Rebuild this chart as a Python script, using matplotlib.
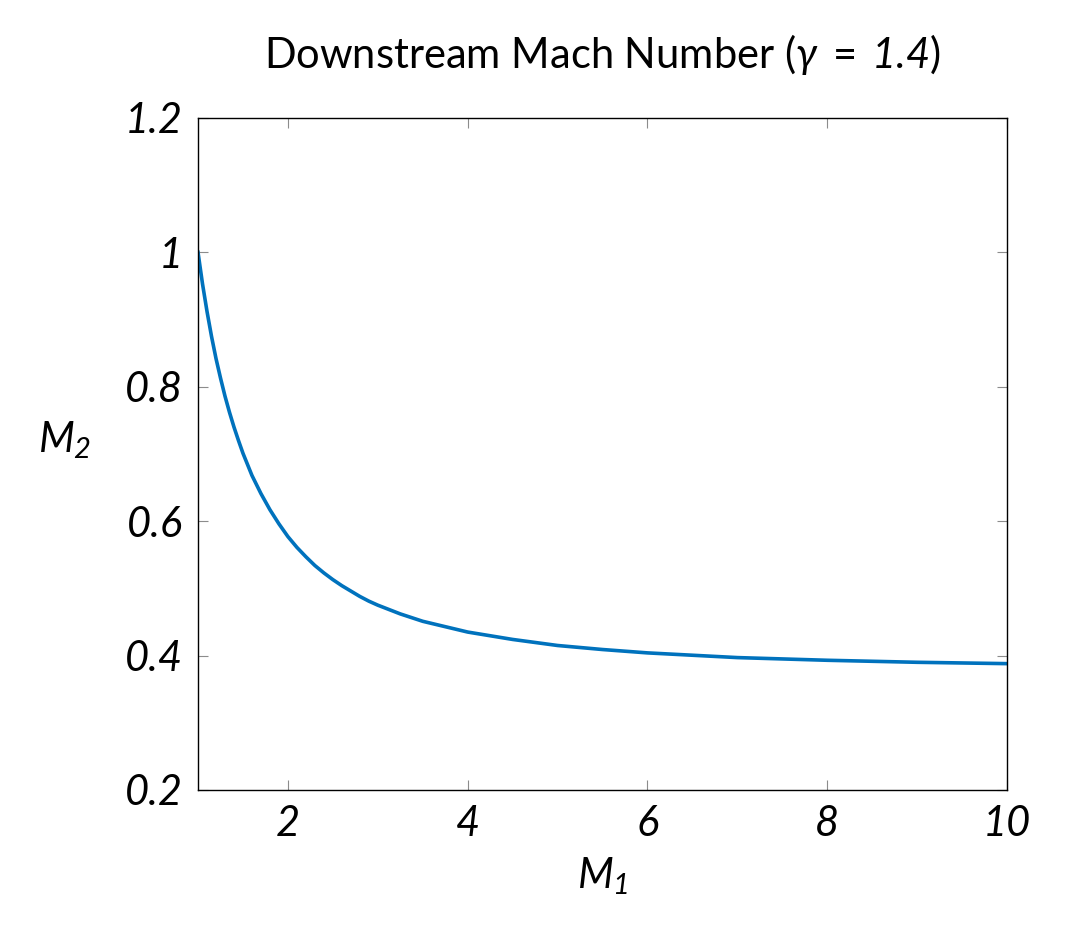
import matplotlib
matplotlib.use("Agg")
import matplotlib.pyplot as plt

# values
m1 = [1.0, 1.02, 1.05, 1.1, 1.15, 1.2, 1.25, 1.3, 1.35, 1.4, 1.45, 1.5, 1.6,
      1.7, 1.8, 1.9, 2.0, 2.1, 2.2, 2.3, 2.4, 2.5, 2.6, 2.7, 2.8, 2.9, 3.0,
      3.25, 3.5, 3.75, 4.0, 4.5, 5.0, 5.5, 6.0, 7.0, 8.0, 9.0, 10.0]
m2 = [1.000, 0.981, 0.953, 0.912, 0.875, 0.842, 0.813, 0.786, 0.762, 0.740,
      0.720, 0.701, 0.668, 0.641, 0.617, 0.596, 0.577, 0.561, 0.547, 0.534,
      0.523, 0.513, 0.504, 0.496, 0.488, 0.481, 0.475, 0.462, 0.451, 0.443,
      0.435, 0.424, 0.415, 0.409, 0.404, 0.397, 0.393, 0.390, 0.388]
xticks = [2, 4, 6, 8, 10]
yticks = [0.2, 0.4, 0.6, 0.8, 1.0, 1.2]
yticklabels = ["0.2", "0.4", "0.6", "0.8", "1", "1.2"]

plt.rcParams["font.family"] = ["Lato", "DejaVu Sans"]
plt.rcParams["mathtext.fontset"] = "custom"
plt.rcParams["mathtext.it"] = "Lato:italic"
plt.rcParams["mathtext.rm"] = "Lato"
plt.rcParams["mathtext.sf"] = "Lato:italic"
plt.rcParams["mathtext.fallback"] = "cm"

fig = plt.figure(figsize=(10.71, 9.34), dpi=100)
ax = fig.add_axes([0.1849, 0.1542, 0.7554, 0.7195])

ax.plot(m1, m2, color="#0072bd", lw=2.6)
ax.set_xlim(1, 10)
ax.set_ylim(0.2, 1.2)
ax.set_xticks(xticks)
ax.set_xticklabels([str(t) for t in xticks], fontstyle="italic", fontsize=30)
ax.set_yticks(yticks)
ax.set_yticklabels(yticklabels, fontstyle="italic", fontsize=30)
ax.tick_params(direction="in", length=7, width=0.8, color="#8c8c8c",
               top=True, right=True, pad=11)
for s in ax.spines.values():
    s.set_linewidth(1.0)

ax.set_title(r"Downstream Mach Number $(\gamma\;=\;\mathsf{1.4})$", fontsize=30, pad=36)
ax.set_xlabel(r"$M_\mathsf{1}$", fontsize=30, labelpad=9)
ax.set_ylabel(r"$M_\mathsf{2}$", fontsize=30, rotation=0)
ax.yaxis.set_label_coords(-0.165, 0.49)

fig.savefig("out.png", dpi=100)
